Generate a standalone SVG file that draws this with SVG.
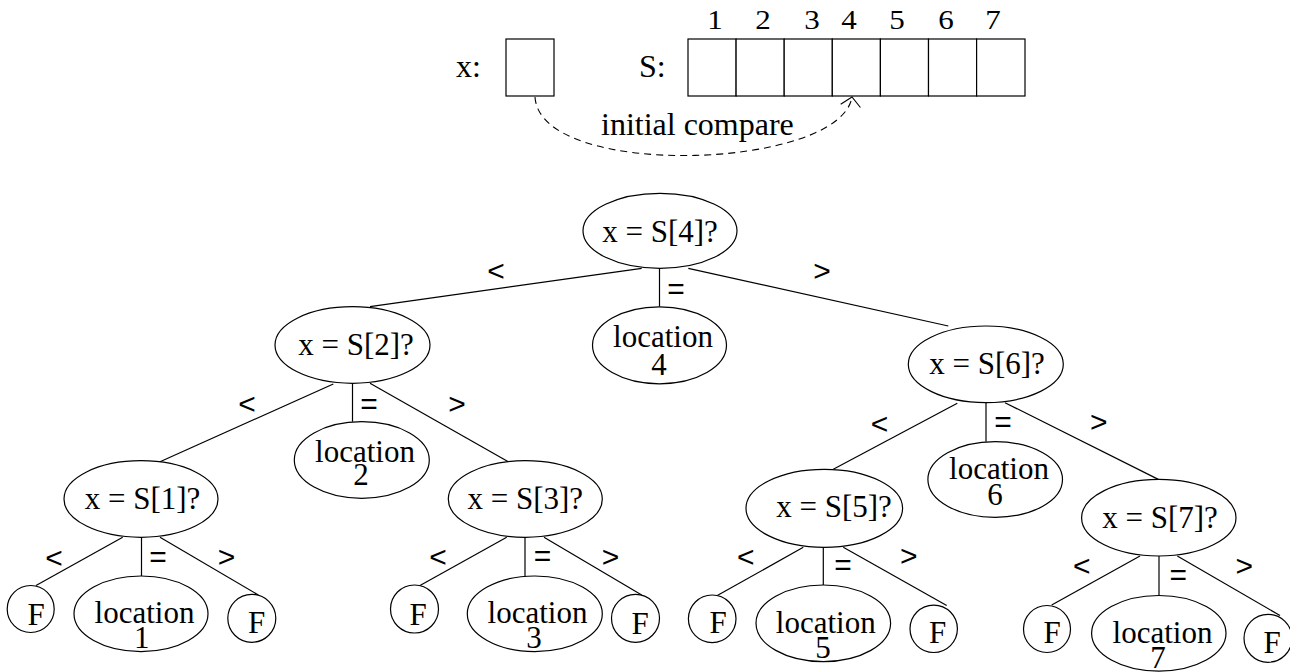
<svg xmlns="http://www.w3.org/2000/svg" width="1290" height="672" viewBox="0 0 1290 672">
<style>
.bg{fill:#fff}
.box{fill:#fff;stroke:#000;stroke-width:1.2}
.n{fill:#fff;stroke:#000;stroke-width:1.2}
.e{stroke:#000;stroke-width:1.2;fill:none}
.t{font-family:"Liberation Serif","Times New Roman",serif;font-size:31px;fill:#000;text-anchor:middle}
.ts{font-family:"Liberation Serif","Times New Roman",serif;font-size:32px;fill:#000}
.d{font-family:"Liberation Serif","Times New Roman",serif;font-size:27px;fill:#000;text-anchor:middle}
.l{font-family:"Liberation Sans",Arial,sans-serif;font-size:30px;fill:#000;text-anchor:middle}
.dash{stroke:#000;stroke-width:1.1;fill:none;stroke-dasharray:7 5}
</style>
<defs>
<marker id="open" markerUnits="userSpaceOnUse" markerWidth="12" markerHeight="22" refX="10" refY="11" orient="auto" overflow="visible">
<path d="M1,1 L10,11 L1,21" fill="none" stroke="#000" stroke-width="1.1" stroke-dasharray="none"/>
</marker>
</defs>
<rect class="bg" x="0" y="0" width="1290" height="672"/>

<g id="array">
<text class="ts" x="456" y="77">x:</text>
<rect class="box" x="506" y="39" width="48" height="57"/>
<text class="ts" x="639" y="77">S:</text>
<rect class="box" x="688" y="39" width="48.1" height="57"/>
<rect class="box" x="736.1" y="39" width="48.1" height="57"/>
<rect class="box" x="784.2" y="39" width="48.1" height="57"/>
<rect class="box" x="832.3" y="39" width="48.1" height="57"/>
<rect class="box" x="880.4" y="39" width="48.1" height="57"/>
<rect class="box" x="928.5" y="39" width="48.1" height="57"/>
<rect class="box" x="976.6" y="39" width="48.4" height="57"/>
<text class="d" transform="translate(715,29) scale(1.15,1)">1</text>
<text class="d" transform="translate(763,29) scale(1.15,1)">2</text>
<text class="d" transform="translate(812,29) scale(1.15,1)">3</text>
<text class="d" transform="translate(849,29) scale(1.15,1)">4</text>
<text class="d" transform="translate(897,29) scale(1.15,1)">5</text>
<text class="d" transform="translate(946,29) scale(1.15,1)">6</text>
<text class="d" transform="translate(993,29) scale(1.15,1)">7</text>
</g>

<g id="initial-compare">
<path class="dash" d="M535,97 C540,180 840,170 852,97" marker-end="url(#open)"/>
<text class="ts" x="601" y="135">initial compare</text>
</g>

<g id="connectors">
<line class="e" x1="641.7" y1="268.3" x2="370" y2="306.7"/>
<line class="e" x1="659.5" y1="268.3" x2="659.5" y2="306.7"/>
<line class="e" x1="688.3" y1="268.3" x2="948.3" y2="326"/>
<line class="e" x1="333.3" y1="384" x2="160" y2="461.7"/>
<line class="e" x1="352.5" y1="383.3" x2="352.5" y2="421.7"/>
<line class="e" x1="370" y1="383.3" x2="508.3" y2="461.7"/>
<line class="e" x1="122.7" y1="537.3" x2="36" y2="585.5"/>
<line class="e" x1="141.5" y1="537.3" x2="141.5" y2="576"/>
<line class="e" x1="160" y1="537.3" x2="258.3" y2="595"/>
<line class="e" x1="506.7" y1="537.3" x2="420" y2="585.5"/>
<line class="e" x1="525" y1="537.3" x2="525" y2="576"/>
<line class="e" x1="544" y1="537.3" x2="641.7" y2="595"/>
<line class="e" x1="957.3" y1="403.3" x2="833.3" y2="469.3"/>
<line class="e" x1="986" y1="402.7" x2="986" y2="441.7"/>
<line class="e" x1="1005" y1="402.7" x2="1158.3" y2="479.4"/>
<line class="e" x1="803.3" y1="547.3" x2="717.3" y2="595.5"/>
<line class="e" x1="823.3" y1="547.3" x2="823.3" y2="585"/>
<line class="e" x1="843.3" y1="547.3" x2="946.7" y2="605.5"/>
<line class="e" x1="1140" y1="556" x2="1051.7" y2="605"/>
<line class="e" x1="1159" y1="556" x2="1159" y2="595"/>
<line class="e" x1="1177.3" y1="556" x2="1280" y2="615.5"/>
<text class="l" x="496" y="281">&lt;</text>
<text class="l" x="676" y="299">=</text>
<text class="l" x="822" y="281">&gt;</text>
<text class="l" x="247" y="414">&lt;</text>
<text class="l" x="369" y="414">=</text>
<text class="l" x="457" y="414">&gt;</text>
<text class="l" x="54" y="568">&lt;</text>
<text class="l" x="158" y="567">=</text>
<text class="l" x="226.5" y="567">&gt;</text>
<text class="l" x="438" y="567">&lt;</text>
<text class="l" x="542.5" y="566">=</text>
<text class="l" x="610.5" y="567">&gt;</text>
<text class="l" x="879.5" y="434">&lt;</text>
<text class="l" x="1003" y="432">=</text>
<text class="l" x="1098.7" y="432">&gt;</text>
<text class="l" x="745.7" y="567">&lt;</text>
<text class="l" x="843" y="575">=</text>
<text class="l" x="908.7" y="566">&gt;</text>
<text class="l" x="1081.7" y="576">&lt;</text>
<text class="l" x="1178.3" y="585">=</text>
<text class="l" x="1244.3" y="576">&gt;</text>
</g>

<g id="n4"><ellipse class="n" cx="660" cy="230.8" rx="77" ry="37.5"/><text class="t" x="660" y="242">x = S[4]?</text></g>
<g id="loc4"><ellipse class="n" cx="659.5" cy="345.3" rx="67" ry="38.5"/><text class="t" x="663" y="346.7">location</text><text class="t" x="659" y="375">4</text></g>

<g id="n2"><ellipse class="n" cx="352.5" cy="345" rx="77.5" ry="38.3"/><text class="t" x="356" y="355">x = S[2]?</text></g>
<g id="loc2"><ellipse class="n" cx="361.8" cy="460" rx="67.5" ry="38.3"/><text class="t" x="365" y="461.7">location</text><text class="t" x="361" y="485">2</text></g>

<g id="n1"><ellipse class="n" cx="141" cy="499" rx="77" ry="38.3"/><text class="t" x="142.5" y="509.3">x = S[1]?</text></g>
<g id="f1a"><circle class="n" cx="30.7" cy="609" r="23.5"/><text class="t" x="36" y="625">F</text></g>
<g id="loc1"><ellipse class="n" cx="141" cy="613.8" rx="67" ry="37.8"/><text class="t" x="144.5" y="622.7">location</text><text class="t" x="141.7" y="648.3">1</text></g>
<g id="f1b"><circle class="n" cx="251.8" cy="618.3" r="24"/><text class="t" x="256.5" y="633.3">F</text></g>

<g id="n3"><ellipse class="n" cx="525.3" cy="499" rx="77" ry="38.3"/><text class="t" x="525.3" y="509.3">x = S[3]?</text></g>
<g id="f3a"><circle class="n" cx="414.5" cy="609" r="24"/><text class="t" x="418" y="625">F</text></g>
<g id="loc3"><ellipse class="n" cx="534.8" cy="613.8" rx="67.5" ry="37.8"/><text class="t" x="537.5" y="622.7">location</text><text class="t" x="534" y="648.3">3</text></g>
<g id="f3b"><circle class="n" cx="635.5" cy="618.3" r="24"/><text class="t" x="640" y="634">F</text></g>

<g id="n6"><ellipse class="n" cx="985.8" cy="364.3" rx="77.5" ry="38.3"/><text class="t" x="987" y="374">x = S[6]?</text></g>
<g id="loc6"><ellipse class="n" cx="995.2" cy="479.5" rx="67.3" ry="37.8"/><text class="t" x="999" y="479.3">location</text><text class="t" x="995" y="505">6</text></g>

<g id="n5"><ellipse class="n" cx="824.3" cy="508.3" rx="78.3" ry="39"/><text class="t" x="834" y="517.3">x = S[5]?</text></g>
<g id="f5a"><circle class="n" cx="712.2" cy="618.8" r="23.8"/><text class="t" x="718" y="633.3">F</text></g>
<g id="loc5"><ellipse class="n" cx="823.3" cy="623.3" rx="67.3" ry="38.3"/><text class="t" x="825.8" y="632.7">location</text><text class="t" x="823" y="658.3">5</text></g>
<g id="f5b"><circle class="n" cx="933.7" cy="628.8" r="23.7"/><text class="t" x="937.5" y="643.3">F</text></g>

<g id="n7"><ellipse class="n" cx="1158.8" cy="517.7" rx="77.2" ry="38.3"/><text class="t" x="1160" y="528.3">x = S[7]?</text></g>
<g id="f7a"><circle class="n" cx="1047" cy="629" r="23.5"/><text class="t" x="1052" y="643.3">F</text></g>
<g id="loc7"><ellipse class="n" cx="1158.8" cy="633.3" rx="67.2" ry="37.8"/><text class="t" x="1162.5" y="642.7">location</text><text class="t" x="1158" y="668.3">7</text></g>
<g id="f7b"><circle class="n" cx="1268" cy="638.3" r="24"/><text class="t" x="1272" y="653.3">F</text></g>
</svg>
